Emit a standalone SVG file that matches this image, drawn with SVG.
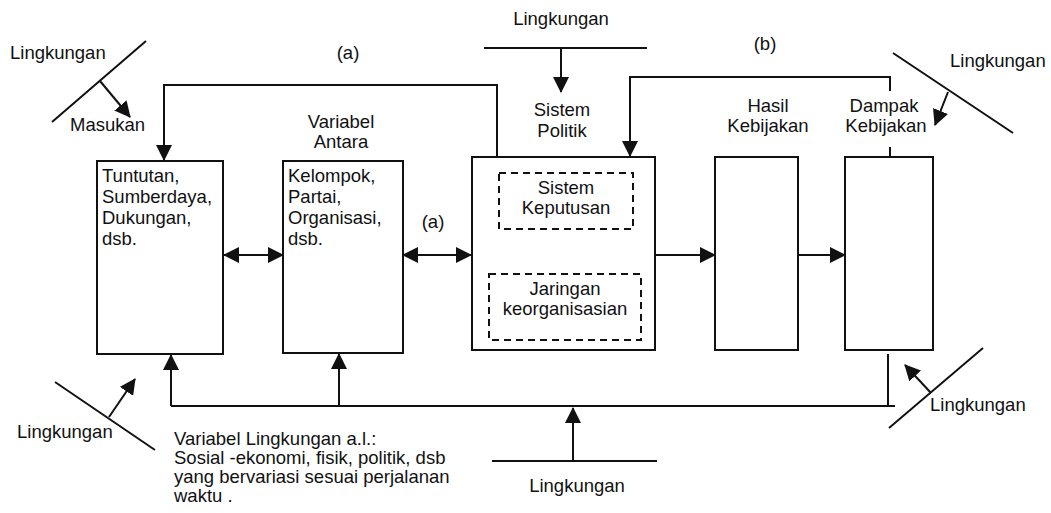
<svg xmlns="http://www.w3.org/2000/svg" width="1051" height="513" viewBox="0 0 1051 513">
<style>
text{font-family:"Liberation Sans",Arial,sans-serif;font-size:18.5px;fill:#111}
.c{text-anchor:middle}
.box{fill:#fff;stroke:#111;stroke-width:2}
.dash{fill:none;stroke:#111;stroke-width:2;stroke-dasharray:7 5}
.ln{fill:none;stroke:#111;stroke-width:2}
</style>
<defs>
<marker id="ah" markerUnits="userSpaceOnUse" markerWidth="16" markerHeight="16" refX="15" refY="8" orient="auto-start-reverse" viewBox="0 0 16 16">
<path d="M0,0 L16,8 L0,16 z" fill="#111"/>
</marker>
</defs>
<rect width="1051" height="513" fill="#fff"/>

<g id="connectors">
<!-- feedback (a) -->
<path class="ln" d="M497,157 V85 H164 V160" marker-end="url(#ah)"/>
<!-- feedback (b) -->
<path class="ln" d="M890,77 H630 V156" marker-end="url(#ah)"/>
<path class="ln" d="M890,76 V91"/>
<path class="ln" d="M890,147 V157"/>
<!-- horizontal arrows -->
<line class="ln" x1="224" y1="255" x2="283" y2="255" marker-start="url(#ah)" marker-end="url(#ah)"/>
<line class="ln" x1="403" y1="255" x2="471" y2="255" marker-start="url(#ah)" marker-end="url(#ah)"/>
<line class="ln" x1="655" y1="255" x2="715" y2="255" marker-end="url(#ah)"/>
<line class="ln" x1="798" y1="255" x2="845" y2="255" marker-end="url(#ah)"/>
<!-- inner connector -->
<line class="ln" x1="567" y1="229" x2="567" y2="274"/>
<!-- bottom environment loop -->
<path class="ln" d="M888,354 V406 H171"/>
<line class="ln" x1="895" y1="406" x2="888" y2="406"/>
<line class="ln" x1="171" y1="406" x2="171" y2="355" marker-end="url(#ah)"/>
<line class="ln" x1="339" y1="406" x2="339" y2="354" marker-end="url(#ah)"/>
<!-- environment arrows -->
<line class="ln" x1="52" y1="122" x2="146" y2="41"/>
<line class="ln" x1="100" y1="81" x2="130" y2="117" marker-end="url(#ah)"/>
<line class="ln" x1="484" y1="48" x2="647" y2="48"/>
<line class="ln" x1="561" y1="48" x2="561" y2="92" marker-end="url(#ah)"/>
<line class="ln" x1="893" y1="53" x2="1013" y2="133"/>
<line class="ln" x1="948" y1="92" x2="935" y2="125" marker-end="url(#ah)"/>
<line class="ln" x1="55" y1="382" x2="155" y2="450"/>
<line class="ln" x1="109" y1="417" x2="135" y2="379" marker-end="url(#ah)"/>
<line class="ln" x1="492" y1="461" x2="657" y2="461"/>
<line class="ln" x1="573" y1="461" x2="573" y2="408" marker-end="url(#ah)"/>
<line class="ln" x1="889" y1="428" x2="983" y2="348"/>
<line class="ln" x1="931" y1="393" x2="905" y2="365" marker-end="url(#ah)"/>
</g>

<g id="node-masukan">
<rect class="box" x="97" y="161" width="126" height="193"/>
<text x="102" y="182">Tuntutan,</text>
<text x="102" y="203">Sumberdaya,</text>
<text x="102" y="224">Dukungan,</text>
<text x="102" y="245">dsb.</text>
</g>

<g id="node-variabel-antara">
<rect class="box" x="283" y="161" width="120" height="192"/>
<text x="288" y="182">Kelompok,</text>
<text x="288" y="203">Partai,</text>
<text x="288" y="224">Organisasi,</text>
<text x="288" y="245">dsb.</text>
</g>

<g id="node-sistem-politik">
<rect class="box" x="472" y="157" width="183" height="193"/>
</g>

<g id="node-sistem-keputusan">
<rect class="dash" x="499" y="173" width="134" height="56"/>
<text class="c" x="566" y="194">Sistem</text>
<text class="c" x="566" y="214">Keputusan</text>
</g>

<g id="node-jaringan">
<rect class="dash" x="489" y="274" width="152" height="66"/>
<text class="c" x="565" y="295">Jaringan</text>
<text class="c" x="565" y="315">keorganisasian</text>
</g>

<g id="node-hasil">
<rect class="box" x="715" y="157" width="83" height="193"/>
</g>

<g id="node-dampak">
<rect class="box" x="845" y="157" width="88" height="193"/>
</g>

<g id="labels">
<text x="10" y="59">Lingkungan</text>
<text x="70" y="131">Masukan</text>
<text class="c" x="348" y="59">(a)</text>
<text class="c" x="561" y="25">Lingkungan</text>
<text class="c" x="562" y="116">Sistem</text>
<text class="c" x="562" y="137">Politik</text>
<text class="c" x="765" y="50">(b)</text>
<text x="950" y="67">Lingkungan</text>
<text class="c" x="768" y="112">Hasil</text>
<text class="c" x="768" y="132">Kebijakan</text>
<text class="c" x="884" y="112">Dampak</text>
<text class="c" x="886" y="132">Kebijakan</text>
<text class="c" x="341" y="128">Variabel</text>
<text class="c" x="341" y="148">Antara</text>
<text class="c" x="433" y="228">(a)</text>
<text x="17" y="438">Lingkungan</text>
<text x="174" y="445">Variabel Lingkungan a.l.:</text>
<text x="174" y="464">Sosial -ekonomi, fisik, politik, dsb</text>
<text x="174" y="483">yang bervariasi sesuai perjalanan</text>
<text x="174" y="502">waktu .</text>
<text class="c" x="577" y="492">Lingkungan</text>
<text x="930" y="411">Lingkungan</text>
</g>
</svg>
